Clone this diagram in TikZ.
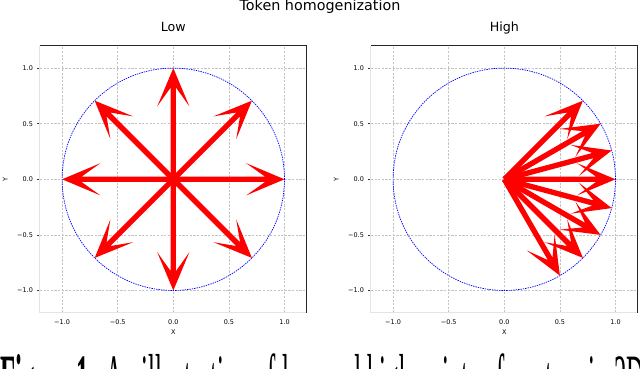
\documentclass[tikz,border=0pt]{standalone}
\usepackage{fontspec}
\setmainfont{Liberation Serif}
\newfontfamily\plotfont{DejaVu Sans}
\usetikzlibrary{positioning}
\definecolor{vecred}{RGB}{255,0,0}
\definecolor{ringblue}{RGB}{0,0,255}
\definecolor{gridgray}{RGB}{195,195,195}
\definecolor{spinegray}{RGB}{228,228,228}
\tikzset{
  ticklab/.style={font=\plotfont\fontsize{4.6}{5}\selectfont,inner sep=0pt},
  paneltitle/.style={font=\plotfont\fontsize{9}{11}\selectfont,inner sep=0pt,anchor=base},
  gridline/.style={draw=gridgray,line width=0.3pt,dash pattern=on 1.6pt off 1pt},
  spine light/.style={draw=spinegray,line width=0.8pt},
  spine dark/.style={draw=black!85,line width=0.8pt},
  ring/.style={draw=ringblue,line width=0.5pt,dash pattern=on 1pt off 0.7pt},
  % one vector with its swept-back head
  pics/vec/.style={code={
    \fill[vecred,rotate=#1] (1,0) -- (0.655,0.145) -- (0.825,0.024) -- (0,0.024)
      -- (0,-0.024) -- (0.825,-0.024) -- (0.655,-0.145) -- cycle;
  }},
  pics/vec/.default=0,
}

\begin{document}
\begin{tikzpicture}[x=0.025cm,y=0.025cm]
  \useasboundingbox (0,0) rectangle (640,369);
  \fill[white] (0,0) rectangle (640,369);
  \node[font=\plotfont\fontsize{10.2}{12}\selectfont,inner sep=0pt,anchor=base] (suptitle) at (320,358) {Token homogenization};
  % the two panels
  \foreach \px/\ttl/\nm in {173.3/Low/low,504.3/High/high}
  {
    \begin{scope}[shift={(\px,189.7)},scale=111.2]
      \foreach \g in {-1,-0.5,0,0.5,1}
      {
        \draw[gridline] (\g,-1.2) -- (\g,1.2);
        \draw[gridline] (-1.2,\g) -- (1.2,\g);
        \draw[black!80,line width=0.5pt] (-1.2,\g) -- (-1.223,\g);
      }
      \draw[spine light] (-1.2,1.2) -- (-1.2,-1.2) -- (1.2,-1.2);
      \draw[spine dark] (-1.2,1.2) -- (1.2,1.2) -- (1.2,-1.2);
      \draw[ring] (0,0) circle (1);
      \foreach \g/\lab [count=\i] in {-1/−1.0,-0.5/−0.5,0/0.0,0.5/0.5,1/1.0}
      {
        \node[ticklab,anchor=base] (\nm xt\i) at (\g,-1.303) {\lab};
        \node[ticklab,anchor=east] (\nm yt\i) at (-1.26,\g) {\lab};
      }
      \node[ticklab,anchor=base] (\nm xlab) at (0,-1.40) {X};
      \node[ticklab,rotate=90] (\nm ylab) at (-1.51,0) {Y};
      \node[paneltitle] (\nm title) at (0,1.327) {\ttl};
    \end{scope}
  }
  % low homogenization: vectors spread all round
  \begin{scope}[shift={(173.3,189.7)},scale=111.2]
    \foreach \a in {0,45,...,315} \pic[transform shape] {vec=\a};
  \end{scope}
  % high homogenization: vectors bunched to the right
  \begin{scope}[shift={(504.3,189.7)},scale=111.2]
    \foreach \a in {45,30,...,-60} \pic[transform shape] {vec=\a};
  \end{scope}
  \node[anchor=base west,inner sep=0pt,yscale=2.8,transform shape,font=\fontsize{17.6}{20}\selectfont] (caption) at (0.5,-33.5)
    {\textbf{Figure 1:} An illustration of low and high points of vectors in 2D};
\end{tikzpicture}
\end{document}
